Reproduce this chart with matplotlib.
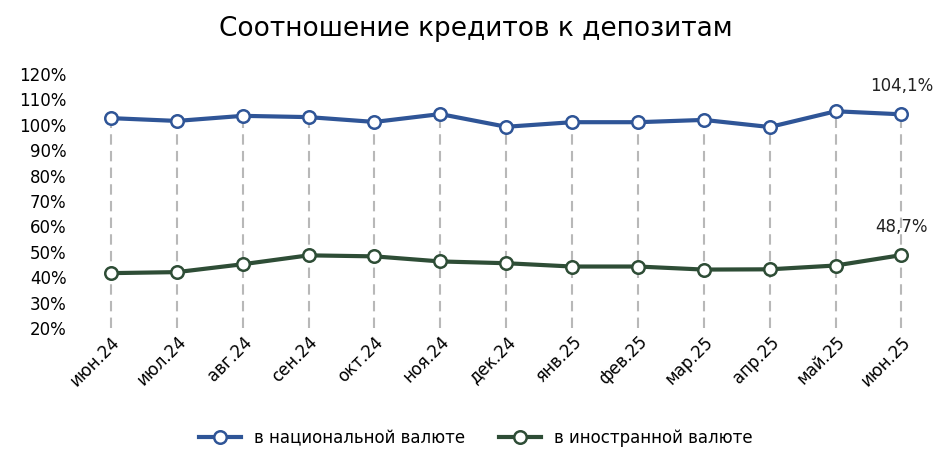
import matplotlib
matplotlib.use("Agg")
import matplotlib.pyplot as plt
import numpy as np

categories = ["июн.24","июл.24","авг.24","сен.24","окт.24","ноя.24","дек.24","янв.25","фев.25","мар.25","апр.25","май.25","июн.25"]
national = [102.6,101.5,103.5,103.0,101.1,104.2,99.2,101.0,101.0,101.9,99.1,105.3,104.1]
foreign = [41.6,42.0,45.1,48.6,48.2,46.2,45.5,44.2,44.2,43.0,43.1,44.6,48.7]
yticks = list(range(20,121,10))

plt.rcParams["font.family"] = "DejaVu Sans"
fig = plt.figure(figsize=(9.52,4.62), dpi=100)
ax = fig.add_axes([0.075,0.29,0.91,0.55])
x = np.arange(len(categories))
for xi, v in zip(x, national):
    ax.plot([xi,xi],[20,v], ls=(0,(5,3)), color="#b8b8b8", lw=1.5, zorder=1)
c1, c2 = "#2f5597", "#2e4d36"
ax.plot(x, national, color=c1, lw=3, marker="o", ms=9, mfc="white", mec=c1, mew=1.8, zorder=3, label="в национальной валюте")
ax.plot(x, foreign, color=c2, lw=3, marker="o", ms=9, mfc="white", mec=c2, mew=1.8, zorder=3, label="в иностранной валюте")
ax.annotate(f"{national[-1]:.1f}%".replace(".",","), (x[-1],national[-1]), xytext=(0,14), textcoords="offset points", ha="center", va="bottom", fontsize=12, color="#222")
ax.annotate(f"{foreign[-1]:.1f}%".replace(".",","), (x[-1],foreign[-1]), xytext=(0,14), textcoords="offset points", ha="center", va="bottom", fontsize=12, color="#222")
ax.set_ylim(20,120)
ax.set_yticks(yticks)
ax.set_yticklabels([f"{t}%" for t in yticks], fontsize=12)
ax.set_xlim(-0.6, len(categories)-0.45)
ax.set_xticks(x)
ax.set_xticklabels(categories, rotation=45, ha="right", rotation_mode="anchor", fontsize=12)
for s in ax.spines.values():
    s.set_visible(False)
ax.tick_params(length=0)
fig.suptitle("Соотношение кредитов к депозитам", fontsize=19, y=0.965)
fig.legend(loc="lower center", bbox_to_anchor=(0.5,0.0), ncol=2, frameon=False, fontsize=12, handlelength=2.5)
fig.savefig("out.png", dpi=100)
